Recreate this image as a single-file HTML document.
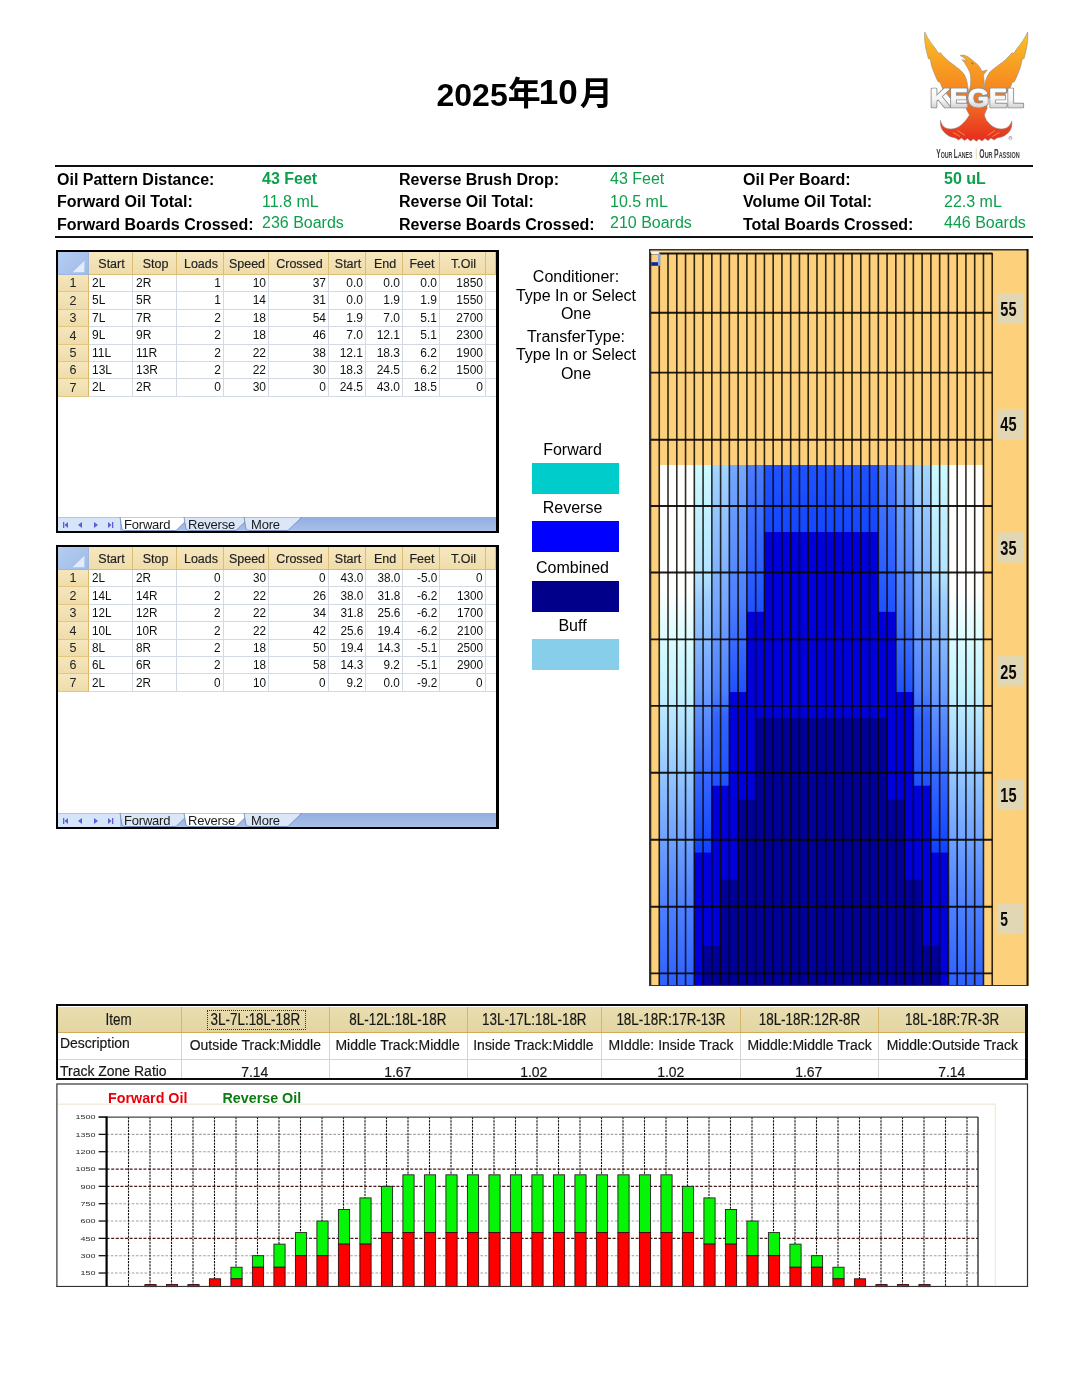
<!DOCTYPE html>
<html lang="ja"><head><meta charset="utf-8"><title>Kegel Oil Pattern 2025年10月</title>
<style>
html,body{margin:0;padding:0;background:#fff;}
body{width:1080px;height:1397px;position:relative;overflow:hidden;font-family:"Liberation Sans","Noto Sans CJK JP",sans-serif;color:#000;}
.abs{position:absolute;}
.t{position:absolute;white-space:nowrap;line-height:1;}
.hl{font-weight:bold;font-size:16px;color:#000;}
.hv{font-size:16px;color:#0ca04b;}
.rule{position:absolute;left:54.5px;width:978.5px;height:2px;background:#111;}
/* spreadsheet */
.sheet{position:absolute;left:56px;width:438px;height:279px;border:2px solid #000;border-width:2px 3px 2px 2px;background:#fff;overflow:hidden;}
.sheet .hd{position:absolute;top:0;height:23px;background:linear-gradient(#f6e7bf,#efdcaa);border-right:1px solid #dcbd74;border-bottom:1px solid #dcbd74;box-sizing:border-box;font-size:12.5px;text-align:center;line-height:25px;overflow:hidden;color:#1a1a1a;padding-left:2px;-webkit-text-stroke:0.2px #333;}
.sheet .rh{position:absolute;left:0;width:31px;height:17px;background:linear-gradient(#f5e6bd,#efdcaa);border-right:1px solid #dcb96a;border-bottom:1px solid #e4c680;box-sizing:border-box;font-size:12.5px;text-align:center;line-height:17px;color:#222;}
.sheet .c{position:absolute;height:17px;box-sizing:border-box;border-right:1px solid #d4dae4;border-bottom:1px solid #d4dae4;font-size:12px;line-height:16px;color:#111;white-space:nowrap;overflow:hidden;}
.sheet .c.l{text-align:left;padding-left:3px;}
.sheet .c.r{text-align:right;padding-right:2px;}
.s2 .c{font-size:13.5px;}
.s2 .c span{display:inline-block;transform:scaleX(.87);}
.s2 .c.l span{transform-origin:left center;}
.s2 .c.r span{transform-origin:right center;}
.tabbar{position:absolute;left:0;bottom:0;width:438px;height:14px;background:linear-gradient(#90aee0,#a9c1e9);}
.tabbar .nav{position:absolute;left:0;top:0;width:62px;height:14px;background:#d6e5fa;border-top:1px solid #b8c4d6;box-sizing:border-box;}
.tab{position:absolute;top:0.8px;height:14px;font-size:13px;line-height:14px;color:#1a1a1a;letter-spacing:-0.2px;}
.lg{position:absolute;text-align:center;font-size:16px;line-height:18.2px;color:#000;white-space:nowrap;}
.sw{position:absolute;left:532px;width:87px;height:31px;}
</style></head><body>

<div class="t" style="left:436.5px;top:75.5px;font-weight:bold;font-size:32px;">2025<span style="font-size:33px;position:relative;top:-1px;margin-left:0px">年</span><span style="font-size:35px;position:relative;top:-2px;margin-left:-2px;margin-right:2px">10</span><span style="font-size:33px;position:relative;top:-1px">月</span></div>
<div class="rule" style="top:164.5px"></div><div class="rule" style="top:236px"></div>
<div class="t hl" style="left:57px;top:172px">Oil Pattern Distance:</div>
<div class="t hv" style="left:262px;top:171.4px;font-weight:bold;">43 Feet</div>
<div class="t hl" style="left:399px;top:172px">Reverse Brush Drop:</div>
<div class="t hv" style="left:610px;top:171.4px;">43 Feet</div>
<div class="t hl" style="left:743px;top:172px">Oil Per Board:</div>
<div class="t hv" style="left:944px;top:171.4px;font-weight:bold;">50 uL</div>
<div class="t hl" style="left:57px;top:194px">Forward Oil Total:</div>
<div class="t hv" style="left:262px;top:193.5px;">11.8 mL</div>
<div class="t hl" style="left:399px;top:194px">Reverse Oil Total:</div>
<div class="t hv" style="left:610px;top:193.5px;">10.5 mL</div>
<div class="t hl" style="left:743px;top:194px">Volume Oil Total:</div>
<div class="t hv" style="left:944px;top:193.5px;">22.3 mL</div>
<div class="t hl" style="left:57px;top:216.5px">Forward Boards Crossed:</div>
<div class="t hv" style="left:262px;top:214.7px;">236 Boards</div>
<div class="t hl" style="left:399px;top:216.5px">Reverse Boards Crossed:</div>
<div class="t hv" style="left:610px;top:214.7px;">210 Boards</div>
<div class="t hl" style="left:743px;top:216.5px">Total Boards Crossed:</div>
<div class="t hv" style="left:944px;top:214.7px;">446 Boards</div>
<div class="sheet s1" style="top:250px;height:279px">
<div class="hd" style="left:0;width:31px;padding:0;background:linear-gradient(135deg,#b7cdf0,#9dbbe9);border-color:#9eb6dc;"><svg width="30" height="23" style="position:absolute;left:0;top:0"><polygon points="26.4,8.7 26.4,20.2 14.6,20.2" fill="#e3ecfa"/></svg></div>
<div class="hd" style="left:31px;width:44px">Start</div>
<div class="hd" style="left:75px;width:44px">Stop</div>
<div class="hd" style="left:119px;width:47px">Loads</div>
<div class="hd" style="left:166px;width:45px">Speed</div>
<div class="hd" style="left:211px;width:60px">Crossed</div>
<div class="hd" style="left:271px;width:37px">Start</div>
<div class="hd" style="left:308px;width:37px">End</div>
<div class="hd" style="left:345px;width:37px">Feet</div>
<div class="hd" style="left:382px;width:46px">T.Oil</div>
<div class="hd" style="left:428px;width:10px"></div>
<div class="rh" style="top:23px;height:17px;line-height:17px">1</div>
<div class="c l" style="left:31px;top:23px;height:17px;line-height:16px;width:44px"><span>2L</span></div>
<div class="c l" style="left:75px;top:23px;height:17px;line-height:16px;width:44px"><span>2R</span></div>
<div class="c r" style="left:119px;top:23px;height:17px;line-height:16px;width:47px"><span>1</span></div>
<div class="c r" style="left:166px;top:23px;height:17px;line-height:16px;width:45px"><span>10</span></div>
<div class="c r" style="left:211px;top:23px;height:17px;line-height:16px;width:60px"><span>37</span></div>
<div class="c r" style="left:271px;top:23px;height:17px;line-height:16px;width:37px"><span>0.0</span></div>
<div class="c r" style="left:308px;top:23px;height:17px;line-height:16px;width:37px"><span>0.0</span></div>
<div class="c r" style="left:345px;top:23px;height:17px;line-height:16px;width:37px"><span>0.0</span></div>
<div class="c r" style="left:382px;top:23px;height:17px;line-height:16px;width:46px"><span>1850</span></div>
<div class="c" style="left:428px;top:23px;height:17px;width:10px;border-right:0"></div>
<div class="rh" style="top:40px;height:18px;line-height:18px">2</div>
<div class="c l" style="left:31px;top:40px;height:18px;line-height:17px;width:44px"><span>5L</span></div>
<div class="c l" style="left:75px;top:40px;height:18px;line-height:17px;width:44px"><span>5R</span></div>
<div class="c r" style="left:119px;top:40px;height:18px;line-height:17px;width:47px"><span>1</span></div>
<div class="c r" style="left:166px;top:40px;height:18px;line-height:17px;width:45px"><span>14</span></div>
<div class="c r" style="left:211px;top:40px;height:18px;line-height:17px;width:60px"><span>31</span></div>
<div class="c r" style="left:271px;top:40px;height:18px;line-height:17px;width:37px"><span>0.0</span></div>
<div class="c r" style="left:308px;top:40px;height:18px;line-height:17px;width:37px"><span>1.9</span></div>
<div class="c r" style="left:345px;top:40px;height:18px;line-height:17px;width:37px"><span>1.9</span></div>
<div class="c r" style="left:382px;top:40px;height:18px;line-height:17px;width:46px"><span>1550</span></div>
<div class="c" style="left:428px;top:40px;height:18px;width:10px;border-right:0"></div>
<div class="rh" style="top:58px;height:17px;line-height:17px">3</div>
<div class="c l" style="left:31px;top:58px;height:17px;line-height:16px;width:44px"><span>7L</span></div>
<div class="c l" style="left:75px;top:58px;height:17px;line-height:16px;width:44px"><span>7R</span></div>
<div class="c r" style="left:119px;top:58px;height:17px;line-height:16px;width:47px"><span>2</span></div>
<div class="c r" style="left:166px;top:58px;height:17px;line-height:16px;width:45px"><span>18</span></div>
<div class="c r" style="left:211px;top:58px;height:17px;line-height:16px;width:60px"><span>54</span></div>
<div class="c r" style="left:271px;top:58px;height:17px;line-height:16px;width:37px"><span>1.9</span></div>
<div class="c r" style="left:308px;top:58px;height:17px;line-height:16px;width:37px"><span>7.0</span></div>
<div class="c r" style="left:345px;top:58px;height:17px;line-height:16px;width:37px"><span>5.1</span></div>
<div class="c r" style="left:382px;top:58px;height:17px;line-height:16px;width:46px"><span>2700</span></div>
<div class="c" style="left:428px;top:58px;height:17px;width:10px;border-right:0"></div>
<div class="rh" style="top:75px;height:18px;line-height:18px">4</div>
<div class="c l" style="left:31px;top:75px;height:18px;line-height:17px;width:44px"><span>9L</span></div>
<div class="c l" style="left:75px;top:75px;height:18px;line-height:17px;width:44px"><span>9R</span></div>
<div class="c r" style="left:119px;top:75px;height:18px;line-height:17px;width:47px"><span>2</span></div>
<div class="c r" style="left:166px;top:75px;height:18px;line-height:17px;width:45px"><span>18</span></div>
<div class="c r" style="left:211px;top:75px;height:18px;line-height:17px;width:60px"><span>46</span></div>
<div class="c r" style="left:271px;top:75px;height:18px;line-height:17px;width:37px"><span>7.0</span></div>
<div class="c r" style="left:308px;top:75px;height:18px;line-height:17px;width:37px"><span>12.1</span></div>
<div class="c r" style="left:345px;top:75px;height:18px;line-height:17px;width:37px"><span>5.1</span></div>
<div class="c r" style="left:382px;top:75px;height:18px;line-height:17px;width:46px"><span>2300</span></div>
<div class="c" style="left:428px;top:75px;height:18px;width:10px;border-right:0"></div>
<div class="rh" style="top:93px;height:17px;line-height:17px">5</div>
<div class="c l" style="left:31px;top:93px;height:17px;line-height:16px;width:44px"><span>11L</span></div>
<div class="c l" style="left:75px;top:93px;height:17px;line-height:16px;width:44px"><span>11R</span></div>
<div class="c r" style="left:119px;top:93px;height:17px;line-height:16px;width:47px"><span>2</span></div>
<div class="c r" style="left:166px;top:93px;height:17px;line-height:16px;width:45px"><span>22</span></div>
<div class="c r" style="left:211px;top:93px;height:17px;line-height:16px;width:60px"><span>38</span></div>
<div class="c r" style="left:271px;top:93px;height:17px;line-height:16px;width:37px"><span>12.1</span></div>
<div class="c r" style="left:308px;top:93px;height:17px;line-height:16px;width:37px"><span>18.3</span></div>
<div class="c r" style="left:345px;top:93px;height:17px;line-height:16px;width:37px"><span>6.2</span></div>
<div class="c r" style="left:382px;top:93px;height:17px;line-height:16px;width:46px"><span>1900</span></div>
<div class="c" style="left:428px;top:93px;height:17px;width:10px;border-right:0"></div>
<div class="rh" style="top:110px;height:17px;line-height:17px">6</div>
<div class="c l" style="left:31px;top:110px;height:17px;line-height:16px;width:44px"><span>13L</span></div>
<div class="c l" style="left:75px;top:110px;height:17px;line-height:16px;width:44px"><span>13R</span></div>
<div class="c r" style="left:119px;top:110px;height:17px;line-height:16px;width:47px"><span>2</span></div>
<div class="c r" style="left:166px;top:110px;height:17px;line-height:16px;width:45px"><span>22</span></div>
<div class="c r" style="left:211px;top:110px;height:17px;line-height:16px;width:60px"><span>30</span></div>
<div class="c r" style="left:271px;top:110px;height:17px;line-height:16px;width:37px"><span>18.3</span></div>
<div class="c r" style="left:308px;top:110px;height:17px;line-height:16px;width:37px"><span>24.5</span></div>
<div class="c r" style="left:345px;top:110px;height:17px;line-height:16px;width:37px"><span>6.2</span></div>
<div class="c r" style="left:382px;top:110px;height:17px;line-height:16px;width:46px"><span>1500</span></div>
<div class="c" style="left:428px;top:110px;height:17px;width:10px;border-right:0"></div>
<div class="rh" style="top:127px;height:18px;line-height:18px">7</div>
<div class="c l" style="left:31px;top:127px;height:18px;line-height:17px;width:44px"><span>2L</span></div>
<div class="c l" style="left:75px;top:127px;height:18px;line-height:17px;width:44px"><span>2R</span></div>
<div class="c r" style="left:119px;top:127px;height:18px;line-height:17px;width:47px"><span>0</span></div>
<div class="c r" style="left:166px;top:127px;height:18px;line-height:17px;width:45px"><span>30</span></div>
<div class="c r" style="left:211px;top:127px;height:18px;line-height:17px;width:60px"><span>0</span></div>
<div class="c r" style="left:271px;top:127px;height:18px;line-height:17px;width:37px"><span>24.5</span></div>
<div class="c r" style="left:308px;top:127px;height:18px;line-height:17px;width:37px"><span>43.0</span></div>
<div class="c r" style="left:345px;top:127px;height:18px;line-height:17px;width:37px"><span>18.5</span></div>
<div class="c r" style="left:382px;top:127px;height:18px;line-height:17px;width:46px"><span>0</span></div>
<div class="c" style="left:428px;top:127px;height:18px;width:10px;border-right:0"></div>
<div class="tabbar"><div class="nav"><svg width="64" height="14" style="position:absolute;left:0;top:0"><g fill="#5d5fd2"><rect x="5" y="4" width="1.3" height="6"/><polygon points="10,4 10,10 6.5,7"/><polygon points="24,4 24,10 20,7"/><polygon points="36,4 36,10 40,7"/><polygon points="50,4 50,10 53.5,7"/><rect x="54" y="4" width="1.3" height="6"/></g></svg></div>
<svg width="438" height="14" style="position:absolute;left:0;top:0"><path d="M62,0 L64,12 Q65,13.5 68,13.5 L118,13.5 L132,0 Z" fill="#ffffff" stroke="#6f86b5" stroke-width="0.8"/><path d="M126,0 L128,12 Q129,13.5 132,13.5 L178,13.5 L192,0 Z" fill="#dbe6f7" stroke="#6f86b5" stroke-width="0.8"/><path d="M186,0 L188,12 Q189,13.5 192,13.5 L230,13.5 L244,0 Z" fill="#dbe6f7" stroke="#6f86b5" stroke-width="0.8"/></svg>
<div class="tab" style="left:66px;">Forward</div>
<div class="tab" style="left:130px;">Reverse</div>
<div class="tab" style="left:193px;">More</div>
</div>
</div>
<div class="sheet s2" style="top:545px;height:280px">
<div class="hd" style="left:0;width:31px;padding:0;background:linear-gradient(135deg,#b7cdf0,#9dbbe9);border-color:#9eb6dc;"><svg width="30" height="23" style="position:absolute;left:0;top:0"><polygon points="26.4,8.7 26.4,20.2 14.6,20.2" fill="#e3ecfa"/></svg></div>
<div class="hd" style="left:31px;width:44px">Start</div>
<div class="hd" style="left:75px;width:44px">Stop</div>
<div class="hd" style="left:119px;width:47px">Loads</div>
<div class="hd" style="left:166px;width:45px">Speed</div>
<div class="hd" style="left:211px;width:60px">Crossed</div>
<div class="hd" style="left:271px;width:37px">Start</div>
<div class="hd" style="left:308px;width:37px">End</div>
<div class="hd" style="left:345px;width:37px">Feet</div>
<div class="hd" style="left:382px;width:46px">T.Oil</div>
<div class="hd" style="left:428px;width:10px"></div>
<div class="rh" style="top:23px;height:17px;line-height:17px">1</div>
<div class="c l" style="left:31px;top:23px;height:17px;line-height:16px;width:44px"><span>2L</span></div>
<div class="c l" style="left:75px;top:23px;height:17px;line-height:16px;width:44px"><span>2R</span></div>
<div class="c r" style="left:119px;top:23px;height:17px;line-height:16px;width:47px"><span>0</span></div>
<div class="c r" style="left:166px;top:23px;height:17px;line-height:16px;width:45px"><span>30</span></div>
<div class="c r" style="left:211px;top:23px;height:17px;line-height:16px;width:60px"><span>0</span></div>
<div class="c r" style="left:271px;top:23px;height:17px;line-height:16px;width:37px"><span>43.0</span></div>
<div class="c r" style="left:308px;top:23px;height:17px;line-height:16px;width:37px"><span>38.0</span></div>
<div class="c r" style="left:345px;top:23px;height:17px;line-height:16px;width:37px"><span>-5.0</span></div>
<div class="c r" style="left:382px;top:23px;height:17px;line-height:16px;width:46px"><span>0</span></div>
<div class="c" style="left:428px;top:23px;height:17px;width:10px;border-right:0"></div>
<div class="rh" style="top:40px;height:18px;line-height:18px">2</div>
<div class="c l" style="left:31px;top:40px;height:18px;line-height:17px;width:44px"><span>14L</span></div>
<div class="c l" style="left:75px;top:40px;height:18px;line-height:17px;width:44px"><span>14R</span></div>
<div class="c r" style="left:119px;top:40px;height:18px;line-height:17px;width:47px"><span>2</span></div>
<div class="c r" style="left:166px;top:40px;height:18px;line-height:17px;width:45px"><span>22</span></div>
<div class="c r" style="left:211px;top:40px;height:18px;line-height:17px;width:60px"><span>26</span></div>
<div class="c r" style="left:271px;top:40px;height:18px;line-height:17px;width:37px"><span>38.0</span></div>
<div class="c r" style="left:308px;top:40px;height:18px;line-height:17px;width:37px"><span>31.8</span></div>
<div class="c r" style="left:345px;top:40px;height:18px;line-height:17px;width:37px"><span>-6.2</span></div>
<div class="c r" style="left:382px;top:40px;height:18px;line-height:17px;width:46px"><span>1300</span></div>
<div class="c" style="left:428px;top:40px;height:18px;width:10px;border-right:0"></div>
<div class="rh" style="top:58px;height:17px;line-height:17px">3</div>
<div class="c l" style="left:31px;top:58px;height:17px;line-height:16px;width:44px"><span>12L</span></div>
<div class="c l" style="left:75px;top:58px;height:17px;line-height:16px;width:44px"><span>12R</span></div>
<div class="c r" style="left:119px;top:58px;height:17px;line-height:16px;width:47px"><span>2</span></div>
<div class="c r" style="left:166px;top:58px;height:17px;line-height:16px;width:45px"><span>22</span></div>
<div class="c r" style="left:211px;top:58px;height:17px;line-height:16px;width:60px"><span>34</span></div>
<div class="c r" style="left:271px;top:58px;height:17px;line-height:16px;width:37px"><span>31.8</span></div>
<div class="c r" style="left:308px;top:58px;height:17px;line-height:16px;width:37px"><span>25.6</span></div>
<div class="c r" style="left:345px;top:58px;height:17px;line-height:16px;width:37px"><span>-6.2</span></div>
<div class="c r" style="left:382px;top:58px;height:17px;line-height:16px;width:46px"><span>1700</span></div>
<div class="c" style="left:428px;top:58px;height:17px;width:10px;border-right:0"></div>
<div class="rh" style="top:75px;height:18px;line-height:18px">4</div>
<div class="c l" style="left:31px;top:75px;height:18px;line-height:17px;width:44px"><span>10L</span></div>
<div class="c l" style="left:75px;top:75px;height:18px;line-height:17px;width:44px"><span>10R</span></div>
<div class="c r" style="left:119px;top:75px;height:18px;line-height:17px;width:47px"><span>2</span></div>
<div class="c r" style="left:166px;top:75px;height:18px;line-height:17px;width:45px"><span>22</span></div>
<div class="c r" style="left:211px;top:75px;height:18px;line-height:17px;width:60px"><span>42</span></div>
<div class="c r" style="left:271px;top:75px;height:18px;line-height:17px;width:37px"><span>25.6</span></div>
<div class="c r" style="left:308px;top:75px;height:18px;line-height:17px;width:37px"><span>19.4</span></div>
<div class="c r" style="left:345px;top:75px;height:18px;line-height:17px;width:37px"><span>-6.2</span></div>
<div class="c r" style="left:382px;top:75px;height:18px;line-height:17px;width:46px"><span>2100</span></div>
<div class="c" style="left:428px;top:75px;height:18px;width:10px;border-right:0"></div>
<div class="rh" style="top:93px;height:17px;line-height:17px">5</div>
<div class="c l" style="left:31px;top:93px;height:17px;line-height:16px;width:44px"><span>8L</span></div>
<div class="c l" style="left:75px;top:93px;height:17px;line-height:16px;width:44px"><span>8R</span></div>
<div class="c r" style="left:119px;top:93px;height:17px;line-height:16px;width:47px"><span>2</span></div>
<div class="c r" style="left:166px;top:93px;height:17px;line-height:16px;width:45px"><span>18</span></div>
<div class="c r" style="left:211px;top:93px;height:17px;line-height:16px;width:60px"><span>50</span></div>
<div class="c r" style="left:271px;top:93px;height:17px;line-height:16px;width:37px"><span>19.4</span></div>
<div class="c r" style="left:308px;top:93px;height:17px;line-height:16px;width:37px"><span>14.3</span></div>
<div class="c r" style="left:345px;top:93px;height:17px;line-height:16px;width:37px"><span>-5.1</span></div>
<div class="c r" style="left:382px;top:93px;height:17px;line-height:16px;width:46px"><span>2500</span></div>
<div class="c" style="left:428px;top:93px;height:17px;width:10px;border-right:0"></div>
<div class="rh" style="top:110px;height:17px;line-height:17px">6</div>
<div class="c l" style="left:31px;top:110px;height:17px;line-height:16px;width:44px"><span>6L</span></div>
<div class="c l" style="left:75px;top:110px;height:17px;line-height:16px;width:44px"><span>6R</span></div>
<div class="c r" style="left:119px;top:110px;height:17px;line-height:16px;width:47px"><span>2</span></div>
<div class="c r" style="left:166px;top:110px;height:17px;line-height:16px;width:45px"><span>18</span></div>
<div class="c r" style="left:211px;top:110px;height:17px;line-height:16px;width:60px"><span>58</span></div>
<div class="c r" style="left:271px;top:110px;height:17px;line-height:16px;width:37px"><span>14.3</span></div>
<div class="c r" style="left:308px;top:110px;height:17px;line-height:16px;width:37px"><span>9.2</span></div>
<div class="c r" style="left:345px;top:110px;height:17px;line-height:16px;width:37px"><span>-5.1</span></div>
<div class="c r" style="left:382px;top:110px;height:17px;line-height:16px;width:46px"><span>2900</span></div>
<div class="c" style="left:428px;top:110px;height:17px;width:10px;border-right:0"></div>
<div class="rh" style="top:127px;height:18px;line-height:18px">7</div>
<div class="c l" style="left:31px;top:127px;height:18px;line-height:17px;width:44px"><span>2L</span></div>
<div class="c l" style="left:75px;top:127px;height:18px;line-height:17px;width:44px"><span>2R</span></div>
<div class="c r" style="left:119px;top:127px;height:18px;line-height:17px;width:47px"><span>0</span></div>
<div class="c r" style="left:166px;top:127px;height:18px;line-height:17px;width:45px"><span>10</span></div>
<div class="c r" style="left:211px;top:127px;height:18px;line-height:17px;width:60px"><span>0</span></div>
<div class="c r" style="left:271px;top:127px;height:18px;line-height:17px;width:37px"><span>9.2</span></div>
<div class="c r" style="left:308px;top:127px;height:18px;line-height:17px;width:37px"><span>0.0</span></div>
<div class="c r" style="left:345px;top:127px;height:18px;line-height:17px;width:37px"><span>-9.2</span></div>
<div class="c r" style="left:382px;top:127px;height:18px;line-height:17px;width:46px"><span>0</span></div>
<div class="c" style="left:428px;top:127px;height:18px;width:10px;border-right:0"></div>
<div class="tabbar"><div class="nav"><svg width="64" height="14" style="position:absolute;left:0;top:0"><g fill="#5d5fd2"><rect x="5" y="4" width="1.3" height="6"/><polygon points="10,4 10,10 6.5,7"/><polygon points="24,4 24,10 20,7"/><polygon points="36,4 36,10 40,7"/><polygon points="50,4 50,10 53.5,7"/><rect x="54" y="4" width="1.3" height="6"/></g></svg></div>
<svg width="438" height="14" style="position:absolute;left:0;top:0"><path d="M62,0 L64,12 Q65,13.5 68,13.5 L118,13.5 L132,0 Z" fill="#dbe6f7" stroke="#6f86b5" stroke-width="0.8"/><path d="M126,0 L128,12 Q129,13.5 132,13.5 L178,13.5 L192,0 Z" fill="#ffffff" stroke="#6f86b5" stroke-width="0.8"/><path d="M186,0 L188,12 Q189,13.5 192,13.5 L230,13.5 L244,0 Z" fill="#dbe6f7" stroke="#6f86b5" stroke-width="0.8"/></svg>
<div class="tab" style="left:66px;">Forward</div>
<div class="tab" style="left:130px;">Reverse</div>
<div class="tab" style="left:193px;">More</div>
</div>
</div>
<div class="lg" style="left:500px;width:152px;top:268.3px">Conditioner:<br>Type In or Select<br>One</div>
<div class="lg" style="left:500px;width:152px;top:328.2px">TransferType:<br>Type In or Select<br>One</div>
<div class="lg" style="left:529px;width:87px;top:441.3px;">Forward</div>
<div class="sw" style="top:463px;background:#00cccc"></div>
<div class="lg" style="left:529px;width:87px;top:499.3px;">Reverse</div>
<div class="sw" style="top:521px;background:#0000ff"></div>
<div class="lg" style="left:529px;width:87px;top:559.3px;">Combined</div>
<div class="sw" style="top:581px;background:#00008b"></div>
<div class="lg" style="left:529px;width:87px;top:617.3px;">Buff</div>
<div class="sw" style="top:639px;background:#87ceeb"></div><style>
.rt{text-align:center;white-space:nowrap;line-height:1;color:#151515;-webkit-text-stroke:0.2px #222;}
.rt span{display:inline-block;}
.rt.h{font-size:16px;}
.rt.h span{transform:scaleX(.84);}
.rt.d{font-size:15.2px;}
.rt.d span{transform:scaleX(.92);}
</style>
<svg class="abs" style="left:649px;top:249px" width="380" height="737" viewBox="649 249 380 737">
<defs>
<linearGradient id="g1" gradientUnits="userSpaceOnUse" x1="0" y1="465" x2="0" y2="985"><stop offset="0.0000" stop-color="#ffffff"/><stop offset="0.2404" stop-color="#ffffff"/><stop offset="0.3365" stop-color="#d9fbff"/><stop offset="0.4365" stop-color="#c2f1ff"/><stop offset="0.5288" stop-color="#a8daff"/><stop offset="0.6250" stop-color="#8abdff"/><stop offset="0.7212" stop-color="#6ea1ff"/><stop offset="0.8173" stop-color="#5487ff"/><stop offset="1.0000" stop-color="#2e61ff"/></linearGradient>
<linearGradient id="g2" gradientUnits="userSpaceOnUse" x1="0" y1="465" x2="0" y2="852.6"><stop offset="0.0000" stop-color="#ccfaff"/><stop offset="0.2838" stop-color="#b2e3ff"/><stop offset="0.3483" stop-color="#9cceff"/><stop offset="0.5805" stop-color="#6b9eff"/><stop offset="0.6579" stop-color="#578aff"/><stop offset="0.8127" stop-color="#3366ff"/><stop offset="1.0000" stop-color="#0f42ff"/></linearGradient>
<linearGradient id="g3" gradientUnits="userSpaceOnUse" x1="0" y1="465" x2="0" y2="785.7"><stop offset="0.0000" stop-color="#a3d5ff"/><stop offset="0.4210" stop-color="#75a8ff"/><stop offset="0.7016" stop-color="#4c80ff"/><stop offset="0.7951" stop-color="#2e61ff"/><stop offset="1.0000" stop-color="#1f52ff"/></linearGradient>
<linearGradient id="g4" gradientUnits="userSpaceOnUse" x1="0" y1="465" x2="0" y2="692"><stop offset="0.0000" stop-color="#75a8ff"/><stop offset="0.5947" stop-color="#4c80ff"/><stop offset="1.0000" stop-color="#1f52ff"/></linearGradient>
<linearGradient id="g5" gradientUnits="userSpaceOnUse" x1="0" y1="465" x2="0" y2="611.8"><stop offset="0.0000" stop-color="#4a7dff"/><stop offset="1.0000" stop-color="#1f52ff"/></linearGradient>
<linearGradient id="g6" gradientUnits="userSpaceOnUse" x1="0" y1="465" x2="0" y2="532"><stop offset="0.0000" stop-color="#1f52ff"/><stop offset="1.0000" stop-color="#1447ff"/></linearGradient>
</defs>
<rect x="649" y="249" width="380" height="737" fill="#fdd17b"/><rect x="649" y="250.4" width="343" height="2.6" fill="#ffd896"/>
<rect x="659.26" y="465" width="8.86" height="520.0" fill="url(#g1)"/>
<rect x="668.02" y="465" width="8.86" height="520.0" fill="url(#g1)"/>
<rect x="676.79" y="465" width="8.86" height="520.0" fill="url(#g1)"/>
<rect x="685.55" y="465" width="8.86" height="520.0" fill="url(#g1)"/>
<rect x="694.31" y="465" width="8.86" height="389.1" fill="url(#g2)"/>
<rect x="694.31" y="852.6" width="8.86" height="132.4" fill="#0000dc"/>
<rect x="703.07" y="465" width="8.86" height="389.1" fill="url(#g2)"/>
<rect x="703.07" y="852.6" width="8.86" height="132.4" fill="#0000dc"/>
<rect x="703.07" y="946" width="8.86" height="39.0" fill="#000098"/>
<rect x="711.83" y="465" width="8.86" height="322.2" fill="url(#g3)"/>
<rect x="711.83" y="785.7" width="8.86" height="199.3" fill="#0000dc"/>
<rect x="711.83" y="946" width="8.86" height="39.0" fill="#000098"/>
<rect x="720.60" y="465" width="8.86" height="322.2" fill="url(#g3)"/>
<rect x="720.60" y="785.7" width="8.86" height="199.3" fill="#0000dc"/>
<rect x="720.60" y="879.6" width="8.86" height="105.4" fill="#000098"/>
<rect x="729.36" y="465" width="8.86" height="228.5" fill="url(#g4)"/>
<rect x="729.36" y="692" width="8.86" height="293.0" fill="#0000dc"/>
<rect x="729.36" y="879.6" width="8.86" height="105.4" fill="#000098"/>
<rect x="738.12" y="465" width="8.86" height="228.5" fill="url(#g4)"/>
<rect x="738.12" y="692" width="8.86" height="293.0" fill="#0000dc"/>
<rect x="738.12" y="799.6" width="8.86" height="185.4" fill="#000098"/>
<rect x="746.88" y="465" width="8.86" height="148.3" fill="url(#g5)"/>
<rect x="746.88" y="611.8" width="8.86" height="373.2" fill="#0000dc"/>
<rect x="746.88" y="799.6" width="8.86" height="185.4" fill="#000098"/>
<rect x="755.64" y="465" width="8.86" height="148.3" fill="url(#g5)"/>
<rect x="755.64" y="611.8" width="8.86" height="373.2" fill="#0000dc"/>
<rect x="755.64" y="718" width="8.86" height="267.0" fill="#000098"/>
<rect x="764.41" y="465" width="8.86" height="68.5" fill="url(#g6)"/>
<rect x="764.41" y="532" width="8.86" height="453.0" fill="#0000dc"/>
<rect x="764.41" y="718" width="8.86" height="267.0" fill="#000098"/>
<rect x="773.17" y="465" width="8.86" height="68.5" fill="url(#g6)"/>
<rect x="773.17" y="532" width="8.86" height="453.0" fill="#0000dc"/>
<rect x="773.17" y="718" width="8.86" height="267.0" fill="#000098"/>
<rect x="781.93" y="465" width="8.86" height="68.5" fill="url(#g6)"/>
<rect x="781.93" y="532" width="8.86" height="453.0" fill="#0000dc"/>
<rect x="781.93" y="718" width="8.86" height="267.0" fill="#000098"/>
<rect x="790.69" y="465" width="8.86" height="68.5" fill="url(#g6)"/>
<rect x="790.69" y="532" width="8.86" height="453.0" fill="#0000dc"/>
<rect x="790.69" y="718" width="8.86" height="267.0" fill="#000098"/>
<rect x="799.45" y="465" width="8.86" height="68.5" fill="url(#g6)"/>
<rect x="799.45" y="532" width="8.86" height="453.0" fill="#0000dc"/>
<rect x="799.45" y="718" width="8.86" height="267.0" fill="#000098"/>
<rect x="808.22" y="465" width="8.86" height="68.5" fill="url(#g6)"/>
<rect x="808.22" y="532" width="8.86" height="453.0" fill="#0000dc"/>
<rect x="808.22" y="718" width="8.86" height="267.0" fill="#000098"/>
<rect x="816.98" y="465" width="8.86" height="68.5" fill="url(#g6)"/>
<rect x="816.98" y="532" width="8.86" height="453.0" fill="#0000dc"/>
<rect x="816.98" y="718" width="8.86" height="267.0" fill="#000098"/>
<rect x="825.74" y="465" width="8.86" height="68.5" fill="url(#g6)"/>
<rect x="825.74" y="532" width="8.86" height="453.0" fill="#0000dc"/>
<rect x="825.74" y="718" width="8.86" height="267.0" fill="#000098"/>
<rect x="834.50" y="465" width="8.86" height="68.5" fill="url(#g6)"/>
<rect x="834.50" y="532" width="8.86" height="453.0" fill="#0000dc"/>
<rect x="834.50" y="718" width="8.86" height="267.0" fill="#000098"/>
<rect x="843.26" y="465" width="8.86" height="68.5" fill="url(#g6)"/>
<rect x="843.26" y="532" width="8.86" height="453.0" fill="#0000dc"/>
<rect x="843.26" y="718" width="8.86" height="267.0" fill="#000098"/>
<rect x="852.03" y="465" width="8.86" height="68.5" fill="url(#g6)"/>
<rect x="852.03" y="532" width="8.86" height="453.0" fill="#0000dc"/>
<rect x="852.03" y="718" width="8.86" height="267.0" fill="#000098"/>
<rect x="860.79" y="465" width="8.86" height="68.5" fill="url(#g6)"/>
<rect x="860.79" y="532" width="8.86" height="453.0" fill="#0000dc"/>
<rect x="860.79" y="718" width="8.86" height="267.0" fill="#000098"/>
<rect x="869.55" y="465" width="8.86" height="68.5" fill="url(#g6)"/>
<rect x="869.55" y="532" width="8.86" height="453.0" fill="#0000dc"/>
<rect x="869.55" y="718" width="8.86" height="267.0" fill="#000098"/>
<rect x="878.31" y="465" width="8.86" height="148.3" fill="url(#g5)"/>
<rect x="878.31" y="611.8" width="8.86" height="373.2" fill="#0000dc"/>
<rect x="878.31" y="718" width="8.86" height="267.0" fill="#000098"/>
<rect x="887.07" y="465" width="8.86" height="148.3" fill="url(#g5)"/>
<rect x="887.07" y="611.8" width="8.86" height="373.2" fill="#0000dc"/>
<rect x="887.07" y="799.6" width="8.86" height="185.4" fill="#000098"/>
<rect x="895.84" y="465" width="8.86" height="228.5" fill="url(#g4)"/>
<rect x="895.84" y="692" width="8.86" height="293.0" fill="#0000dc"/>
<rect x="895.84" y="799.6" width="8.86" height="185.4" fill="#000098"/>
<rect x="904.60" y="465" width="8.86" height="228.5" fill="url(#g4)"/>
<rect x="904.60" y="692" width="8.86" height="293.0" fill="#0000dc"/>
<rect x="904.60" y="879.6" width="8.86" height="105.4" fill="#000098"/>
<rect x="913.36" y="465" width="8.86" height="322.2" fill="url(#g3)"/>
<rect x="913.36" y="785.7" width="8.86" height="199.3" fill="#0000dc"/>
<rect x="913.36" y="879.6" width="8.86" height="105.4" fill="#000098"/>
<rect x="922.12" y="465" width="8.86" height="322.2" fill="url(#g3)"/>
<rect x="922.12" y="785.7" width="8.86" height="199.3" fill="#0000dc"/>
<rect x="922.12" y="946" width="8.86" height="39.0" fill="#000098"/>
<rect x="930.88" y="465" width="8.86" height="389.1" fill="url(#g2)"/>
<rect x="930.88" y="852.6" width="8.86" height="132.4" fill="#0000dc"/>
<rect x="930.88" y="946" width="8.86" height="39.0" fill="#000098"/>
<rect x="939.65" y="465" width="8.86" height="389.1" fill="url(#g2)"/>
<rect x="939.65" y="852.6" width="8.86" height="132.4" fill="#0000dc"/>
<rect x="948.41" y="465" width="8.86" height="520.0" fill="url(#g1)"/>
<rect x="957.17" y="465" width="8.86" height="520.0" fill="url(#g1)"/>
<rect x="965.93" y="465" width="8.86" height="520.0" fill="url(#g1)"/>
<rect x="974.69" y="465" width="8.86" height="520.0" fill="url(#g1)"/>
<path d="M650.50,253V985M659.26,253V985M668.02,253V985M676.79,253V985M685.55,253V985M694.31,253V985M703.07,253V985M711.83,253V985M720.60,253V985M729.36,253V985M738.12,253V985M746.88,253V985M755.64,253V985M764.41,253V985M773.17,253V985M781.93,253V985M790.69,253V985M799.45,253V985M808.22,253V985M816.98,253V985M825.74,253V985M834.50,253V985M843.26,253V985M852.03,253V985M860.79,253V985M869.55,253V985M878.31,253V985M887.07,253V985M895.84,253V985M904.60,253V985M913.36,253V985M922.12,253V985M930.88,253V985M939.65,253V985M948.41,253V985M957.17,253V985M965.93,253V985M974.69,253V985M983.46,253V985M992.22,253V985" stroke="#0a0500" stroke-opacity="0.84" stroke-width="1.6" fill="none"/>
<path d="M650.5,253.5H992.22M650.5,312.8H992.22M650.5,372.6H992.22M650.5,439.7H992.22M650.5,506H992.22M650.5,572.5H992.22M650.5,639.4H992.22M650.5,705.9H992.22M650.5,772.8H992.22M650.5,839.8H992.22M650.5,906.8H992.22M650.5,973.4H992.22" stroke="#0a0603" stroke-opacity="0.92" stroke-width="1.9" fill="none"/>
<path d="M649.7,986V249.7H1028" stroke="#333" stroke-width="1.4" fill="none"/>
<path d="M1027.5,249V986" stroke="#111" stroke-width="2" fill="none"/>
<path d="M649,985.5H1028" stroke="#333" stroke-width="1.2" fill="none"/>
<rect x="651.2" y="252" width="8" height="2.3" fill="#fff4e0"/><rect x="651.2" y="262.2" width="7" height="3.6" fill="#0a2aa4"/><rect x="658" y="253.6" width="2.4" height="12.2" fill="#86a6ee"/>
<rect x="997.3" y="293.4" width="26" height="30.2" fill="#e2d7b4"/>
<text x="1000.3" y="315.8" font-family="Liberation Sans, sans-serif" font-weight="bold" font-size="20" textLength="16.2" lengthAdjust="spacingAndGlyphs" fill="#0a0a0a">55</text>
<rect x="997.3" y="409.0" width="26" height="30.2" fill="#e2d7b4"/>
<text x="1000.3" y="431.4" font-family="Liberation Sans, sans-serif" font-weight="bold" font-size="20" textLength="16.2" lengthAdjust="spacingAndGlyphs" fill="#0a0a0a">45</text>
<rect x="997.3" y="532.3" width="26" height="30.2" fill="#e2d7b4"/>
<text x="1000.3" y="554.7" font-family="Liberation Sans, sans-serif" font-weight="bold" font-size="20" textLength="16.2" lengthAdjust="spacingAndGlyphs" fill="#0a0a0a">35</text>
<rect x="997.3" y="656.1" width="26" height="30.2" fill="#e2d7b4"/>
<text x="1000.3" y="678.5" font-family="Liberation Sans, sans-serif" font-weight="bold" font-size="20" textLength="16.2" lengthAdjust="spacingAndGlyphs" fill="#0a0a0a">25</text>
<rect x="997.3" y="780.0" width="26" height="30.2" fill="#e2d7b4"/>
<text x="1000.3" y="802.4" font-family="Liberation Sans, sans-serif" font-weight="bold" font-size="20" textLength="16.2" lengthAdjust="spacingAndGlyphs" fill="#0a0a0a">15</text>
<rect x="997.3" y="903.8" width="26" height="30.2" fill="#e2d7b4"/>
<text x="1000.3" y="926.2" font-family="Liberation Sans, sans-serif" font-weight="bold" font-size="20" textLength="7.7" lengthAdjust="spacingAndGlyphs" fill="#0a0a0a">5</text>
</svg>
<div class="abs" style="left:56px;top:1004px;width:967px;height:71.5px;border:2px solid #0a0a0a;border-top-width:2.5px;border-right-width:3px;background:#fff"></div>
<div class="abs" style="left:58px;top:1006.5px;width:967px;height:25.5px;background:linear-gradient(#eadeb0,#e3d5a2);border-bottom:1px solid #d2ab58"></div>
<div class="abs" style="left:58px;top:1059.2px;width:967px;height:1px;background:#d4d4d4"></div>
<div class="abs" style="left:180.7px;top:1006.5px;width:1px;height:25.5px;background:#d6b668"></div>
<div class="abs" style="left:180.7px;top:1033px;width:1px;height:45px;background:#d4d4d4"></div>
<div class="abs" style="left:329.3px;top:1006.5px;width:1px;height:25.5px;background:#d6b668"></div>
<div class="abs" style="left:329.3px;top:1033px;width:1px;height:45px;background:#d4d4d4"></div>
<div class="abs" style="left:466.7px;top:1006.5px;width:1px;height:25.5px;background:#d6b668"></div>
<div class="abs" style="left:466.7px;top:1033px;width:1px;height:45px;background:#d4d4d4"></div>
<div class="abs" style="left:601.0px;top:1006.5px;width:1px;height:25.5px;background:#d6b668"></div>
<div class="abs" style="left:601.0px;top:1033px;width:1px;height:45px;background:#d4d4d4"></div>
<div class="abs" style="left:740.0px;top:1006.5px;width:1px;height:25.5px;background:#d6b668"></div>
<div class="abs" style="left:740.0px;top:1033px;width:1px;height:45px;background:#d4d4d4"></div>
<div class="abs" style="left:878.3px;top:1006.5px;width:1px;height:25.5px;background:#d6b668"></div>
<div class="abs" style="left:878.3px;top:1033px;width:1px;height:45px;background:#d4d4d4"></div>
<div class="abs rt h" style="left:57.0px;top:1012px;width:123.7px;"><span>Item</span></div>
<div class="abs rt d" style="left:59.5px;top:1035.1px;text-align:left;width:123.7px;"><span style="transform-origin:left center">Description</span></div>
<div class="abs rt d" style="left:59.5px;top:1063px;text-align:left;width:123.7px;"><span style="transform-origin:left center">Track Zone Ratio</span></div>
<div class="abs rt h" style="left:180.7px;top:1012px;width:148.6px;"><span>3L-7L:18L-18R</span></div>
<div class="abs rt d" style="left:180.7px;top:1037.2px;width:148.6px;"><span>Outside Track:Middle</span></div>
<div class="abs rt d" style="left:180.7px;top:1063.7px;width:148.6px;"><span>7.14</span></div>
<div class="abs rt h" style="left:329.3px;top:1012px;width:137.4px;"><span>8L-12L:18L-18R</span></div>
<div class="abs rt d" style="left:329.3px;top:1037.2px;width:137.4px;"><span>Middle Track:Middle</span></div>
<div class="abs rt d" style="left:329.3px;top:1063.7px;width:137.4px;"><span>1.67</span></div>
<div class="abs rt h" style="left:466.7px;top:1012px;width:134.3px;"><span>13L-17L:18L-18R</span></div>
<div class="abs rt d" style="left:466.7px;top:1037.2px;width:134.3px;"><span>Inside Track:Middle</span></div>
<div class="abs rt d" style="left:466.7px;top:1063.7px;width:134.3px;"><span>1.02</span></div>
<div class="abs rt h" style="left:601.0px;top:1012px;width:139.0px;"><span>18L-18R:17R-13R</span></div>
<div class="abs rt d" style="left:601.0px;top:1037.2px;width:139.0px;"><span>MIddle: Inside Track</span></div>
<div class="abs rt d" style="left:601.0px;top:1063.7px;width:139.0px;"><span>1.02</span></div>
<div class="abs rt h" style="left:740.0px;top:1012px;width:138.3px;"><span>18L-18R:12R-8R</span></div>
<div class="abs rt d" style="left:740.0px;top:1037.2px;width:138.3px;"><span>Middle:Middle Track</span></div>
<div class="abs rt d" style="left:740.0px;top:1063.7px;width:138.3px;"><span>1.67</span></div>
<div class="abs rt h" style="left:878.3px;top:1012px;width:147.2px;"><span>18L-18R:7R-3R</span></div>
<div class="abs rt d" style="left:878.3px;top:1037.2px;width:147.2px;"><span>Middle:Outside Track</span></div>
<div class="abs rt d" style="left:878.3px;top:1063.7px;width:147.2px;"><span>7.14</span></div>
<div class="abs" style="left:206.5px;top:1010px;width:99px;height:20px;border:1px dotted #333;box-sizing:border-box"></div>
<svg class="abs" style="left:56px;top:1083px" width="973" height="205" viewBox="56 1083 973 205">
<rect x="56.9" y="1084" width="970.6" height="202.5" fill="#fff" stroke="#333" stroke-width="1.2"/>
<path d="M58,1104.3H995.3V1286" stroke="#f1ecdc" stroke-width="1.4" fill="none"/>
<path d="M106.6,1273.02H978" stroke="#a89f9f" stroke-width="1.1" stroke-dasharray="2.6 1.6" fill="none"/>
<path d="M106.6,1255.69H978" stroke="#a89f9f" stroke-width="1.1" stroke-dasharray="2.6 1.6" fill="none"/>
<path d="M106.6,1238.36H978" stroke="#4a1a1a" stroke-width="1.3" stroke-dasharray="3 1.6" fill="none"/>
<path d="M106.6,1221.03H978" stroke="#a89f9f" stroke-width="1.1" stroke-dasharray="2.6 1.6" fill="none"/>
<path d="M106.6,1203.70H978" stroke="#a89f9f" stroke-width="1.1" stroke-dasharray="2.6 1.6" fill="none"/>
<path d="M106.6,1186.37H978" stroke="#4a1a1a" stroke-width="1.3" stroke-dasharray="3 1.6" fill="none"/>
<path d="M106.6,1169.04H978" stroke="#4a1a1a" stroke-width="1.3" stroke-dasharray="3 1.6" fill="none"/>
<path d="M106.6,1151.71H978" stroke="#a89f9f" stroke-width="1.1" stroke-dasharray="2.6 1.6" fill="none"/>
<path d="M106.6,1134.38H978" stroke="#a89f9f" stroke-width="1.1" stroke-dasharray="2.6 1.6" fill="none"/>
<path d="M128.50,1117.05V1286M150.00,1117.05V1286M171.50,1117.05V1286M193.00,1117.05V1286M214.50,1117.05V1286M236.00,1117.05V1286M257.50,1117.05V1286M279.00,1117.05V1286M300.50,1117.05V1286M322.00,1117.05V1286M343.50,1117.05V1286M365.00,1117.05V1286M386.50,1117.05V1286M408.00,1117.05V1286M429.50,1117.05V1286M451.00,1117.05V1286M472.50,1117.05V1286M494.00,1117.05V1286M515.50,1117.05V1286M537.00,1117.05V1286M558.50,1117.05V1286M580.00,1117.05V1286M601.50,1117.05V1286M623.00,1117.05V1286M644.50,1117.05V1286M666.00,1117.05V1286M687.50,1117.05V1286M709.00,1117.05V1286M730.50,1117.05V1286M752.00,1117.05V1286M773.50,1117.05V1286M795.00,1117.05V1286M816.50,1117.05V1286M838.00,1117.05V1286M859.50,1117.05V1286M881.00,1117.05V1286M902.50,1117.05V1286M924.00,1117.05V1286M945.50,1117.05V1286M967.00,1117.05V1286" stroke="#111" stroke-width="1.1" stroke-dasharray="2.2 1" fill="none"/>
<rect x="144.90" y="1284.57" width="11.2" height="4.43" fill="#ff0000" stroke="#3a0a0a" stroke-width="0.9"/>
<rect x="166.40" y="1284.57" width="11.2" height="4.43" fill="#ff0000" stroke="#3a0a0a" stroke-width="0.9"/>
<rect x="187.90" y="1284.57" width="11.2" height="4.43" fill="#ff0000" stroke="#3a0a0a" stroke-width="0.9"/>
<rect x="209.40" y="1278.80" width="11.2" height="10.20" fill="#ff0000" stroke="#3a0a0a" stroke-width="0.9"/>
<rect x="230.90" y="1267.24" width="11.2" height="11.55" fill="#06f406" stroke="#222" stroke-width="0.9"/>
<rect x="230.90" y="1278.80" width="11.2" height="10.20" fill="#ff0000" stroke="#3a0a0a" stroke-width="0.9"/>
<rect x="252.40" y="1255.69" width="11.2" height="11.55" fill="#06f406" stroke="#222" stroke-width="0.9"/>
<rect x="252.40" y="1267.24" width="11.2" height="21.76" fill="#ff0000" stroke="#3a0a0a" stroke-width="0.9"/>
<rect x="273.90" y="1244.14" width="11.2" height="23.11" fill="#06f406" stroke="#222" stroke-width="0.9"/>
<rect x="273.90" y="1267.24" width="11.2" height="21.76" fill="#ff0000" stroke="#3a0a0a" stroke-width="0.9"/>
<rect x="295.40" y="1232.58" width="11.2" height="23.11" fill="#06f406" stroke="#222" stroke-width="0.9"/>
<rect x="295.40" y="1255.69" width="11.2" height="33.31" fill="#ff0000" stroke="#3a0a0a" stroke-width="0.9"/>
<rect x="316.90" y="1221.03" width="11.2" height="34.66" fill="#06f406" stroke="#222" stroke-width="0.9"/>
<rect x="316.90" y="1255.69" width="11.2" height="33.31" fill="#ff0000" stroke="#3a0a0a" stroke-width="0.9"/>
<rect x="338.40" y="1209.48" width="11.2" height="34.66" fill="#06f406" stroke="#222" stroke-width="0.9"/>
<rect x="338.40" y="1244.14" width="11.2" height="44.86" fill="#ff0000" stroke="#3a0a0a" stroke-width="0.9"/>
<rect x="359.90" y="1197.92" width="11.2" height="46.21" fill="#06f406" stroke="#222" stroke-width="0.9"/>
<rect x="359.90" y="1244.14" width="11.2" height="44.86" fill="#ff0000" stroke="#3a0a0a" stroke-width="0.9"/>
<rect x="381.40" y="1186.37" width="11.2" height="46.21" fill="#06f406" stroke="#222" stroke-width="0.9"/>
<rect x="381.40" y="1232.58" width="11.2" height="56.42" fill="#ff0000" stroke="#3a0a0a" stroke-width="0.9"/>
<rect x="402.90" y="1174.82" width="11.2" height="57.77" fill="#06f406" stroke="#222" stroke-width="0.9"/>
<rect x="402.90" y="1232.58" width="11.2" height="56.42" fill="#ff0000" stroke="#3a0a0a" stroke-width="0.9"/>
<rect x="424.40" y="1174.82" width="11.2" height="57.77" fill="#06f406" stroke="#222" stroke-width="0.9"/>
<rect x="424.40" y="1232.58" width="11.2" height="56.42" fill="#ff0000" stroke="#3a0a0a" stroke-width="0.9"/>
<rect x="445.90" y="1174.82" width="11.2" height="57.77" fill="#06f406" stroke="#222" stroke-width="0.9"/>
<rect x="445.90" y="1232.58" width="11.2" height="56.42" fill="#ff0000" stroke="#3a0a0a" stroke-width="0.9"/>
<rect x="467.40" y="1174.82" width="11.2" height="57.77" fill="#06f406" stroke="#222" stroke-width="0.9"/>
<rect x="467.40" y="1232.58" width="11.2" height="56.42" fill="#ff0000" stroke="#3a0a0a" stroke-width="0.9"/>
<rect x="488.90" y="1174.82" width="11.2" height="57.77" fill="#06f406" stroke="#222" stroke-width="0.9"/>
<rect x="488.90" y="1232.58" width="11.2" height="56.42" fill="#ff0000" stroke="#3a0a0a" stroke-width="0.9"/>
<rect x="510.40" y="1174.82" width="11.2" height="57.77" fill="#06f406" stroke="#222" stroke-width="0.9"/>
<rect x="510.40" y="1232.58" width="11.2" height="56.42" fill="#ff0000" stroke="#3a0a0a" stroke-width="0.9"/>
<rect x="531.90" y="1174.82" width="11.2" height="57.77" fill="#06f406" stroke="#222" stroke-width="0.9"/>
<rect x="531.90" y="1232.58" width="11.2" height="56.42" fill="#ff0000" stroke="#3a0a0a" stroke-width="0.9"/>
<rect x="553.40" y="1174.82" width="11.2" height="57.77" fill="#06f406" stroke="#222" stroke-width="0.9"/>
<rect x="553.40" y="1232.58" width="11.2" height="56.42" fill="#ff0000" stroke="#3a0a0a" stroke-width="0.9"/>
<rect x="574.90" y="1174.82" width="11.2" height="57.77" fill="#06f406" stroke="#222" stroke-width="0.9"/>
<rect x="574.90" y="1232.58" width="11.2" height="56.42" fill="#ff0000" stroke="#3a0a0a" stroke-width="0.9"/>
<rect x="596.40" y="1174.82" width="11.2" height="57.77" fill="#06f406" stroke="#222" stroke-width="0.9"/>
<rect x="596.40" y="1232.58" width="11.2" height="56.42" fill="#ff0000" stroke="#3a0a0a" stroke-width="0.9"/>
<rect x="617.90" y="1174.82" width="11.2" height="57.77" fill="#06f406" stroke="#222" stroke-width="0.9"/>
<rect x="617.90" y="1232.58" width="11.2" height="56.42" fill="#ff0000" stroke="#3a0a0a" stroke-width="0.9"/>
<rect x="639.40" y="1174.82" width="11.2" height="57.77" fill="#06f406" stroke="#222" stroke-width="0.9"/>
<rect x="639.40" y="1232.58" width="11.2" height="56.42" fill="#ff0000" stroke="#3a0a0a" stroke-width="0.9"/>
<rect x="660.90" y="1174.82" width="11.2" height="57.77" fill="#06f406" stroke="#222" stroke-width="0.9"/>
<rect x="660.90" y="1232.58" width="11.2" height="56.42" fill="#ff0000" stroke="#3a0a0a" stroke-width="0.9"/>
<rect x="682.40" y="1186.37" width="11.2" height="46.21" fill="#06f406" stroke="#222" stroke-width="0.9"/>
<rect x="682.40" y="1232.58" width="11.2" height="56.42" fill="#ff0000" stroke="#3a0a0a" stroke-width="0.9"/>
<rect x="703.90" y="1197.92" width="11.2" height="46.21" fill="#06f406" stroke="#222" stroke-width="0.9"/>
<rect x="703.90" y="1244.14" width="11.2" height="44.86" fill="#ff0000" stroke="#3a0a0a" stroke-width="0.9"/>
<rect x="725.40" y="1209.48" width="11.2" height="34.66" fill="#06f406" stroke="#222" stroke-width="0.9"/>
<rect x="725.40" y="1244.14" width="11.2" height="44.86" fill="#ff0000" stroke="#3a0a0a" stroke-width="0.9"/>
<rect x="746.90" y="1221.03" width="11.2" height="34.66" fill="#06f406" stroke="#222" stroke-width="0.9"/>
<rect x="746.90" y="1255.69" width="11.2" height="33.31" fill="#ff0000" stroke="#3a0a0a" stroke-width="0.9"/>
<rect x="768.40" y="1232.58" width="11.2" height="23.11" fill="#06f406" stroke="#222" stroke-width="0.9"/>
<rect x="768.40" y="1255.69" width="11.2" height="33.31" fill="#ff0000" stroke="#3a0a0a" stroke-width="0.9"/>
<rect x="789.90" y="1244.14" width="11.2" height="23.11" fill="#06f406" stroke="#222" stroke-width="0.9"/>
<rect x="789.90" y="1267.24" width="11.2" height="21.76" fill="#ff0000" stroke="#3a0a0a" stroke-width="0.9"/>
<rect x="811.40" y="1255.69" width="11.2" height="11.55" fill="#06f406" stroke="#222" stroke-width="0.9"/>
<rect x="811.40" y="1267.24" width="11.2" height="21.76" fill="#ff0000" stroke="#3a0a0a" stroke-width="0.9"/>
<rect x="832.90" y="1267.24" width="11.2" height="11.55" fill="#06f406" stroke="#222" stroke-width="0.9"/>
<rect x="832.90" y="1278.80" width="11.2" height="10.20" fill="#ff0000" stroke="#3a0a0a" stroke-width="0.9"/>
<rect x="854.40" y="1278.80" width="11.2" height="10.20" fill="#ff0000" stroke="#3a0a0a" stroke-width="0.9"/>
<rect x="875.90" y="1284.57" width="11.2" height="4.43" fill="#ff0000" stroke="#3a0a0a" stroke-width="0.9"/>
<rect x="897.40" y="1284.57" width="11.2" height="4.43" fill="#ff0000" stroke="#3a0a0a" stroke-width="0.9"/>
<rect x="918.90" y="1284.57" width="11.2" height="4.43" fill="#ff0000" stroke="#3a0a0a" stroke-width="0.9"/>
<path d="M98.6,1117.05H978" stroke="#444" stroke-width="1.2" fill="none"/>
<path d="M978,1117.05V1286" stroke="#222" stroke-width="1.3" fill="none"/>
<path d="M106.6,1116.45V1286" stroke="#000" stroke-width="2.2" fill="none"/>
<path d="M98.6,1273.02H106.6" stroke="#111" stroke-width="1.3"/>
<text x="95.6" y="1275.42" text-anchor="end" font-family="Liberation Sans, sans-serif" font-size="6.2" textLength="15.0" lengthAdjust="spacingAndGlyphs" fill="#2a2a2a">150</text>
<path d="M98.6,1255.69H106.6" stroke="#111" stroke-width="1.3"/>
<text x="95.6" y="1258.09" text-anchor="end" font-family="Liberation Sans, sans-serif" font-size="6.2" textLength="15.0" lengthAdjust="spacingAndGlyphs" fill="#2a2a2a">300</text>
<path d="M98.6,1238.36H106.6" stroke="#111" stroke-width="1.3"/>
<text x="95.6" y="1240.76" text-anchor="end" font-family="Liberation Sans, sans-serif" font-size="6.2" textLength="15.0" lengthAdjust="spacingAndGlyphs" fill="#2a2a2a">450</text>
<path d="M98.6,1221.03H106.6" stroke="#111" stroke-width="1.3"/>
<text x="95.6" y="1223.43" text-anchor="end" font-family="Liberation Sans, sans-serif" font-size="6.2" textLength="15.0" lengthAdjust="spacingAndGlyphs" fill="#2a2a2a">600</text>
<path d="M98.6,1203.70H106.6" stroke="#111" stroke-width="1.3"/>
<text x="95.6" y="1206.10" text-anchor="end" font-family="Liberation Sans, sans-serif" font-size="6.2" textLength="15.0" lengthAdjust="spacingAndGlyphs" fill="#2a2a2a">750</text>
<path d="M98.6,1186.37H106.6" stroke="#111" stroke-width="1.3"/>
<text x="95.6" y="1188.77" text-anchor="end" font-family="Liberation Sans, sans-serif" font-size="6.2" textLength="15.0" lengthAdjust="spacingAndGlyphs" fill="#2a2a2a">900</text>
<path d="M98.6,1169.04H106.6" stroke="#111" stroke-width="1.3"/>
<text x="95.6" y="1171.44" text-anchor="end" font-family="Liberation Sans, sans-serif" font-size="6.2" textLength="20.0" lengthAdjust="spacingAndGlyphs" fill="#2a2a2a">1050</text>
<path d="M98.6,1151.71H106.6" stroke="#111" stroke-width="1.3"/>
<text x="95.6" y="1154.11" text-anchor="end" font-family="Liberation Sans, sans-serif" font-size="6.2" textLength="20.0" lengthAdjust="spacingAndGlyphs" fill="#2a2a2a">1200</text>
<path d="M98.6,1134.38H106.6" stroke="#111" stroke-width="1.3"/>
<text x="95.6" y="1136.78" text-anchor="end" font-family="Liberation Sans, sans-serif" font-size="6.2" textLength="20.0" lengthAdjust="spacingAndGlyphs" fill="#2a2a2a">1350</text>
<path d="M98.6,1117.05H106.6" stroke="#111" stroke-width="1.3"/>
<text x="95.6" y="1119.45" text-anchor="end" font-family="Liberation Sans, sans-serif" font-size="6.2" textLength="20.0" lengthAdjust="spacingAndGlyphs" fill="#2a2a2a">1500</text>
<rect x="56" y="1287.1" width="973" height="6" fill="#fff"/>
<path d="M56.3,1286.5H1028.1" stroke="#333" stroke-width="1.2"/>
<text x="108" y="1102.5" font-family="Liberation Sans, sans-serif" font-weight="bold" font-size="14.3" fill="#e8000c">Forward Oil</text>
<text x="222.5" y="1102.5" font-family="Liberation Sans, sans-serif" font-weight="bold" font-size="14.3" fill="#0a7d12">Reverse Oil</text>
</svg>
<svg class="abs" style="left:915px;top:25px" width="125" height="140" viewBox="915 25 125 140">
<defs>
<linearGradient id="lg1" gradientUnits="userSpaceOnUse" x1="0" y1="30" x2="0" y2="142">
<stop offset="0" stop-color="#f8c628"/><stop offset="0.22" stop-color="#f8a924"/><stop offset="0.5" stop-color="#f68a20"/><stop offset="0.75" stop-color="#f05a22"/><stop offset="1" stop-color="#e52a1e"/></linearGradient>
<linearGradient id="lg2" gradientUnits="userSpaceOnUse" x1="0" y1="88" x2="0" y2="108">
<stop offset="0" stop-color="#ffffff"/><stop offset="0.6" stop-color="#f4f4f4"/><stop offset="1" stop-color="#d2d2d2"/></linearGradient>
</defs>
<g fill="url(#lg1)" stroke="#8c8c8c" stroke-width="0.55" stroke-linejoin="round">
<path d="M924.8,31.9 C924,37 925,45 926.6,51.6 L928.3,58.6 L930.3,59.2 C931,64 932,68 933.5,71.3 C935,75 936.5,79 938.1,81.7 L940.2,82.5 C941,85 942,88 943.5,90 L950,98 L970,98 L967.7,86.3 C967.3,82 966.5,78 963.6,73.6 C962,71.3 960.5,70.2 959,69 C956,66.5 953,64.5 949.7,62 C946,59 943,56 940.2,52.6 L938.7,53.6 C936,49 934,46.5 932.4,44.7 C929,40 926.5,36 924.8,31.9 Z"/>
<path d="M 1027.60,31.9 C 1028.40,37 1027.40,45 1025.80,51.6 L 1024.10,58.6 L 1022.10,59.2 C 1021.40,64 1020.40,68 1018.90,71.3 C 1017.40,75 1015.90,79 1014.30,81.7 L 1012.20,82.5 C 1011.40,85 1010.40,88 1008.90,90 L 1002.40,98 L 982.40,98 L 984.70,86.3 C 985.10,82 985.90,78 988.80,73.6 C 990.40,71.3 991.90,70.2 993.40,69 C 996.40,66.5 999.40,64.5 1002.70,62 C 1006.40,59 1009.40,56 1012.20,52.6 L 1013.70,53.6 C 1016.40,49 1018.40,46.5 1020.00,44.7 C 1023.40,40 1025.90,36 1027.60,31.9 Z"/>
<path d="M960.1,55.6 C962,54.8 964,54.9 965.9,55.7 C968,56.6 970,58 971.7,59.7 C974,61.5 976,63 977.5,64.4 C979.5,66.5 981,69 982.1,71.3 L987.3,70 L983.4,74.9 C984,78 984.3,82 984.4,85.2 L985.5,98 L987.3,108 C986,111 985,113 984.4,115 C985,119 988,123 992,126 C997,129.5 1004,130 1008,127 C1010,125 1011.2,123 1011.6,120.9 C1012.6,125 1011.5,129 1009,132 C1006,135.5 1002,137.5 997,138 L994,140 L991,138 L988,140.6 L985,138.5 L982,141 L979,139 L976.3,141.2 L973.5,139 L970.5,141 L967.5,138.5 L964.5,140.6 L961.5,138 L958.5,140 L955.5,138 C951,137.5 947,135.5 944,132 C941,129 939.8,125 940.5,120.3 C941,123 942,125 944,127 C948,130 955,129.5 960,126 C964,123 967,119 969.4,115 C968.5,113 967,111 965.9,108 L967,98 L970.3,86.3 C970.8,82 970.8,79 970.5,76 C970.2,74 969.8,72.5 969.3,71.3 C968.5,69 967,67 965.9,65 C965,63.2 963.6,61.2 961.9,59.8 C963.4,59.9 964.8,60.4 966.2,61.3 C965.4,59.2 963.5,57 960.1,55.6 Z"/>
</g>
<ellipse cx="972.4" cy="63.4" rx="1.3" ry="0.7" transform="rotate(35 972.4 63.4)" fill="#9a6a4a"/>
<path d="M953,132.5L960,136.5M957.5,130.5L965,135.5M999.4,132.5L992.4,136.5M994.9,130.5L987.4,135.5" stroke="#f59a5a" stroke-width="0.8" fill="none"/>
<text x="976.9" y="107.4" text-anchor="middle" font-family="Liberation Sans, sans-serif" font-weight="bold" font-size="26" textLength="93.5" lengthAdjust="spacingAndGlyphs" fill="#8a8a8a" stroke="#8a8a8a" stroke-width="2.6" stroke-linejoin="round">KEGEL</text>
<text x="976.9" y="107.4" text-anchor="middle" font-family="Liberation Sans, sans-serif" font-weight="bold" font-size="26" textLength="93.5" lengthAdjust="spacingAndGlyphs" fill="url(#lg2)" stroke="url(#lg2)" stroke-width="0.9" stroke-linejoin="round">KEGEL</text>
<circle cx="1010.4" cy="138.2" r="1.6" fill="none" stroke="#9a9a9a" stroke-width="0.6"/>
<text x="1010.4" y="139.2" text-anchor="middle" font-family="Liberation Sans, sans-serif" font-size="2.8" fill="#8a8a8a">R</text>
<text x="936.3" y="158.4" font-family="Liberation Sans, sans-serif" font-weight="bold" font-size="9.6" textLength="36.2" lengthAdjust="spacingAndGlyphs" fill="#3a3a3a"><tspan font-size="12">Y</tspan>OUR <tspan font-size="12">L</tspan>ANES</text>
<rect x="975.8" y="148.3" width="0.8" height="11.2" fill="#e0d2a8"/>
<text x="979.3" y="158.4" font-family="Liberation Sans, sans-serif" font-weight="bold" font-size="9.6" textLength="40.4" lengthAdjust="spacingAndGlyphs" fill="#3a3a3a"><tspan font-size="12">O</tspan>UR <tspan font-size="12">P</tspan>ASSION</text>
</svg>
</body></html>
